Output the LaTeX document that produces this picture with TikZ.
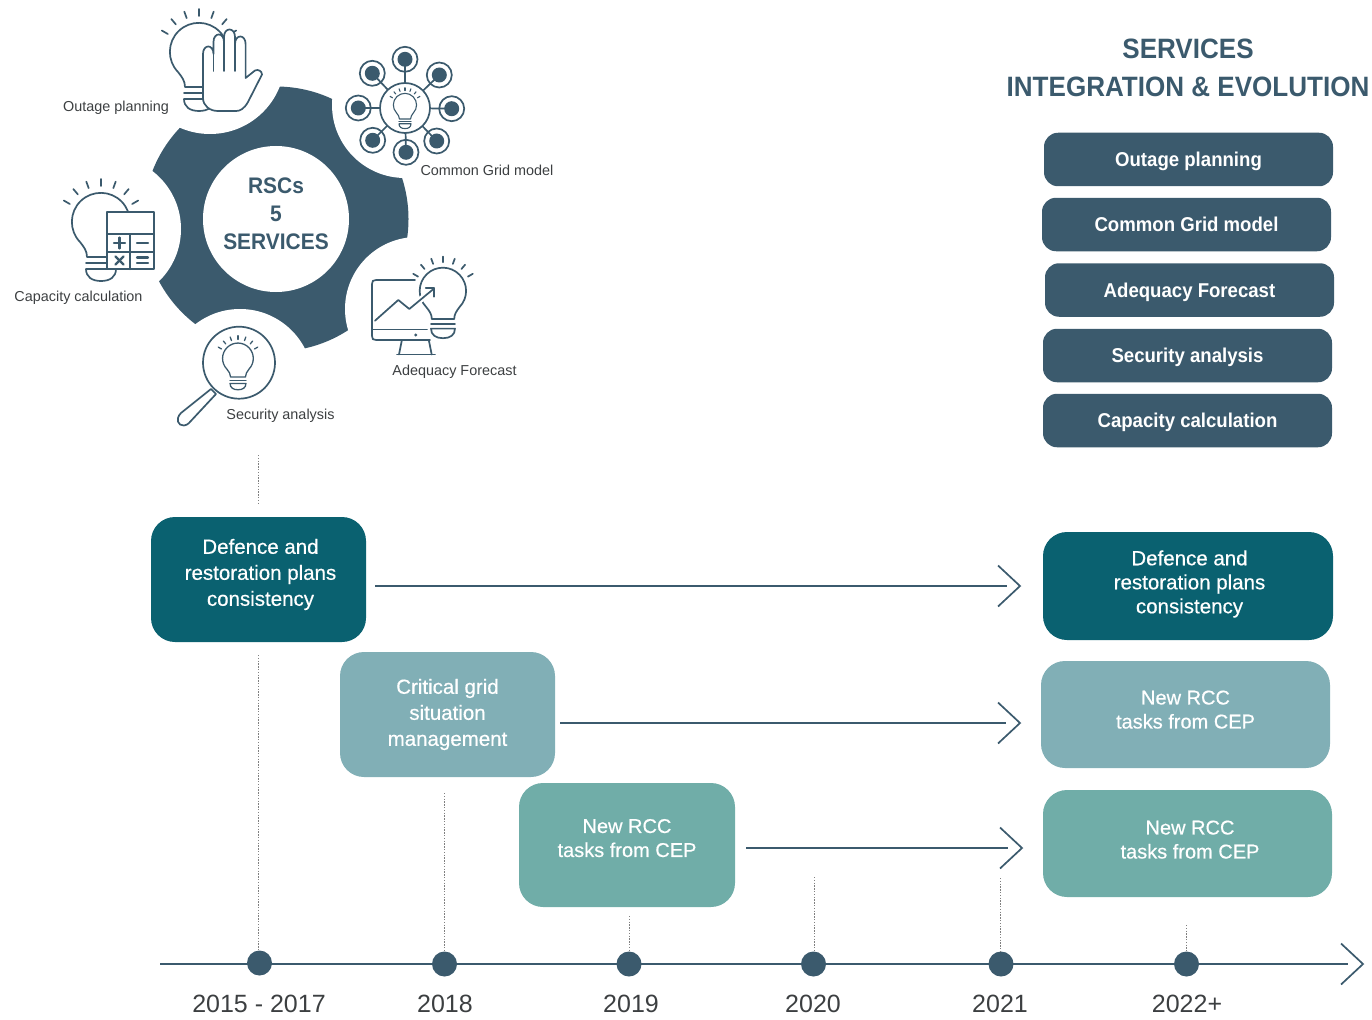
\documentclass[tikz,border=0pt]{standalone}
\usepackage{fontspec}
\setmainfont{Liberation Sans}
\newfontfamily\medfont[FakeBold=0.5]{Liberation Sans}
\newfontfamily\narrowbold[UprightFont={* Bold},FakeStretch=0.93]{Liberation Sans}
\usetikzlibrary{positioning}
\definecolor{slateblue}{HTML}{3B5A6D}
\definecolor{deepteal}{HTML}{0A6170}
\definecolor{paleteal}{HTML}{81AFB6}
\definecolor{softteal}{HTML}{70ADA8}
\definecolor{labelgrey}{HTML}{3C3F41}
\tikzset{
  iconline/.style={draw=slateblue, line width=1.7pt, line cap=round, line join=round},
  flowline/.style={draw=slateblue, line width=1.7pt},
  dotline/.style={draw=gray, line width=1pt, dash pattern=on 1.4pt off 1.4pt},
  svcbox/.style={fill=slateblue, text=white, rounded corners=14pt, minimum width=289pt, minimum height=53.5pt,
    inner sep=0pt, text height=17.5pt, text depth=3.5pt, font=\fontsize{20}{24}\selectfont\narrowbold},
  flowbox/.style={text=white, rounded corners=24pt, inner sep=0pt, align=center, font=\fontsize{20.5}{26}\selectfont\medfont},
  tightbox/.style={flowbox, font=\fontsize{20}{24}\selectfont\medfont},
  yeardot/.style={circle, fill=slateblue, minimum size=25pt, inner sep=0pt},
  yearlabel/.style={text=labelgrey, inner sep=0pt, font=\fontsize{25}{30}\selectfont},
  iconlabel/.style={text=labelgrey, inner sep=0pt, text height=13.5pt, text depth=2.5pt, font=\fontsize{14.4}{17}\selectfont},
  bulbicon/.pic={
    \foreach \a in {210,230,...,330} {
      \draw[iconline] (\a:36) -- (\a:43);
    }
    \draw[iconline,fill=white] (-14,35) .. controls (-14,29) and (-17,25) .. (-21,20)
      arc[start angle=136,end angle=404,radius=29]
      .. controls (17,25) and (14,29) .. (14,35) -- cycle;
    \draw[iconline] (-15,41) -- (15,41);
    \draw[iconline,fill=white] (-15,47) -- (15,47) .. controls (15,55) and (9,59) .. (0,59)
      .. controls (-9,59) and (-15,55) .. (-15,47) -- cycle;
  }
}
\newcommand{\openbarb}[1]{\draw[flowline] (#1) ++(-22,-20.5) -- (#1) -- ++(-22,20.5);}
\newcommand{\tailline}[1]{\\[#1]\mbox{}}
\begin{document}
\begin{tikzpicture}[x=1pt,y=-1pt]
\useasboundingbox (0,0) rectangle (1372,1019);
\def\ygear{219};
\def\xgear{276};
\def\ytime{964};

\fill[slateblue] (\xgear,\ygear) circle (132.5);
\fill[white] (210,59) circle (75);
\fill[white] (405,105) circle (73);
\fill[white] (417,309) circle (72);
\fill[white] (240,382) circle (73);
\fill[white] (108,229) circle (73);
\fill[white] (\xgear,\ygear) circle (73);
\node(gear) at (\xgear,214) [inner sep=0pt, text=slateblue, align=center,
  font=\fontsize{22.5}{28}\selectfont\narrowbold] {RSCs\\5\\SERVICES};

\pic at (199,52) {bulbicon};
\draw[iconline,fill=white] (203,98) -- (203,54) .. controls (203,44) and (213.5,44) .. (213.5,54)
  -- (213.5,42) .. controls (213.5,32) and (224,32) .. (224,42)
  -- (224,37) .. controls (224,27) and (235,27) .. (235,37)
  -- (235,44) .. controls (235,34) and (245.6,34) .. (245.6,44)
  -- (245.6,78) -- (255,70.5) .. controls (258,69) and (262,71) .. (262,74.5)
  -- (248,102) .. controls (244,109) and (240,111) .. (236,111) -- (218,111)
  .. controls (210,111) and (203,106) .. (203,98) -- cycle;
\draw[iconline] (213.5,54) -- (213.5,71);
\draw[iconline] (224,42) -- (224,71);
\draw[iconline] (235,44) -- (235,71);
\node(outage) at (116,106) [iconlabel] {Outage planning};

\foreach \px/\py in {405/59.3, 439.3/75, 451.7/108.7, 436.7/141, 406/152.3, 372.7/140.3, 358.3/108, 372.3/73.3} {
  \draw[iconline] (\px,\py) circle (12.5);
  \draw[iconline] (405,108) -- (\px,\py);
  \fill[slateblue] (\px,\py) circle (7.5);
}
\draw[iconline,fill=white] (405,108) circle (25);
\pic[scale=0.4, iconline/.append style={line width=1.1pt}] at (405,105) {bulbicon};
\node(grid) at (487,170) [iconlabel] {Common Grid model};

\draw[iconline] (415,280) -- (376,280) .. controls (373,280) and (372,281) .. (372,284) -- (372,336)
  .. controls (372,339) and (373,340) .. (376,340) -- (430,340);
\draw[iconline] (372,329.5) -- (427,329.5);
\fill[slateblue] (415.7,335) circle (1.6);
\draw[iconline] (401.7,341) -- (399,354.5);
\draw[iconline] (429,341) -- (431.7,354.5);
\draw[iconline] (397,354.5) -- (435,354.5);
\pic[scale=0.8] at (443,291) {bulbicon};
\draw[white, line width=6pt] (409.3,309) -- (434.3,288.3);
\draw[iconline] (375,320.7) -- (398.3,300) -- (409.3,309) -- (434.3,288.3);
\draw[iconline] (425.7,288.3) -- (434.3,288.3) -- (434.3,296.7);
\node(adequacy) at (454.5,370) [iconlabel] {Adequacy Forecast};

\draw[iconline,fill=white] (211,389) -- (181,413) .. controls (175,419) and (178,426) .. (184,425.5)
  .. controls (186,425.5) and (188,424) .. (189,423) -- (216,394) -- cycle;
\draw[iconline,fill=white] (239,362.7) circle (36);
\pic[scale=0.53, iconline/.append style={line width=1.3pt}] at (238,358.5) {bulbicon};
\node(security) at (280.5,414) [iconlabel] {Security analysis};

\pic at (101,222) {bulbicon};
\draw[iconline,fill=white] (107.3,211.7) rectangle (154,269.3);
\draw[iconline] (107.3,234.3) -- (154,234.3);
\draw[iconline] (107.3,251.7) -- (154,251.7);
\draw[iconline] (130,234.3) -- (130,269.3);
\draw[iconline, line width=2.2pt] (114,243) -- (125,243);
\draw[iconline, line width=2.2pt] (119.5,237.5) -- (119.5,248.5);
\draw[iconline, line width=2.2pt] (137,243) -- (148,243);
\draw[iconline, line width=2.2pt] (115.5,256.5) -- (123.5,264.5);
\draw[iconline, line width=2.2pt] (123.5,256.5) -- (115.5,264.5);
\draw[iconline, line width=2.2pt] (137,257.5) -- (148,257.5);
\draw[iconline, line width=2.2pt] (137,263) -- (148,263);
\node(capacity) at (78.5,296) [iconlabel] {Capacity calculation};

\node(title) at (1188,68) [text=slateblue, inner sep=0pt, align=center, font=\fontsize{28}{38}\selectfont\narrowbold] {SERVICES\\INTEGRATION \& EVOLUTION};
\node(svca) at (1188.5,159.5) [svcbox] {Outage planning};
\node(svcb) at (1186.5,224.5) [svcbox] {Common Grid model};
\node(svcc) at (1189.5,290) [svcbox] {Adequacy Forecast};
\node(svcd) at (1187.5,355.5) [svcbox] {Security analysis};
\node(svce) at (1187.5,420.5) [svcbox] {Capacity calculation};

\def\nudgea{\hspace*{4pt}};
\def\nudgeb{\hspace*{3pt}};
\def\nudgec{\hspace*{5pt}};
\node(defold) at (258.5,579.5) [flowbox, fill=deepteal, minimum width=215pt, minimum height=125pt] {\nudgea Defence and\\\nudgea restoration plans\\\nudgea consistency\tailline{-11.7pt}};
\node(gridold) at (447.5,714.5) [flowbox, fill=paleteal, minimum width=215pt, minimum height=125pt] {Critical grid\\situation\\management};
\node(rccold) at (627,845) [tightbox, fill=softteal, minimum width=216pt, minimum height=124pt] {New RCC\\tasks from CEP\tailline{-10pt}};
\node(defnew) at (1188,586) [tightbox, fill=deepteal, minimum width=290pt, minimum height=108pt, font=\fontsize{20.5}{24}\selectfont\medfont] {\nudgeb Defence and\\\nudgeb restoration plans\\\nudgeb consistency\tailline{-15.7pt}};
\node(rcca) at (1185.5,714.5) [tightbox, fill=paleteal, minimum width=289pt, minimum height=107pt] {New RCC\\tasks from CEP\tailline{-14pt}};
\node(rccb) at (1187.5,843.5) [tightbox, fill=softteal, minimum width=289pt, minimum height=107pt] {\nudgec New RCC\\\nudgec tasks from CEP\tailline{-16pt}};

\coordinate(tipa) at (1020,586);
\coordinate(tipb) at (1020,723);
\coordinate(tipc) at (1022,848);
\coordinate(tipd) at (1363,\ytime);
\coordinate(axisstart) at (160,\ytime);
\draw[flowline, shorten <=9pt, shorten >=13pt] (defold.east |- tipa) -- (tipa);
\draw[flowline, shorten <=5pt, shorten >=14pt] (gridold.east |- tipb) -- (tipb);
\draw[flowline, shorten <=11pt, shorten >=14pt] (rccold.east |- tipc) -- (tipc);
\openbarb{tipa}
\openbarb{tipb}
\openbarb{tipc}
\draw[flowline, shorten >=15pt] (axisstart) -- (tipd);
\openbarb{tipd}

\node(yra) at (259.5,963) [yeardot] {};
\node(yrb) at (444.5,\ytime) [yeardot] {};
\node(yrc) at (629,\ytime) [yeardot] {};
\node(yrd) at (813.5,\ytime) [yeardot] {};
\node(yre) at (1001,\ytime) [yeardot] {};
\node(yrf) at (1186.5,\ytime) [yeardot] {};
\node(laba) at (259,1004) [yearlabel] {2015 - 2017};
\node(labb) at (445,1004) [yearlabel] {2018};
\node(labc) at (631,1004) [yearlabel] {2019};
\node(labd) at (813,1004) [yearlabel] {2020};
\node(labe) at (1000,1004) [yearlabel] {2021};
\node(labf) at (1187,1004) [yearlabel] {2022+};

\coordinate(linea) at (258,455);
\coordinate(lineb) at (258,505);
\coordinate(linec) at (258,655);
\coordinate(lined) at (444,793);
\coordinate(linee) at (629,916);
\coordinate(linef) at (814,877);
\coordinate(lineg) at (1000.5,878);
\coordinate(lineh) at (1186.5,925);
\draw[dotline] (linea) -- (lineb);
\draw[dotline] (linec) -- (linec |- yra.north);
\draw[dotline] (lined) -- (lined |- yrb.north);
\draw[dotline] (linee) -- (linee |- yrc.north);
\draw[dotline] (linef) -- (linef |- yrd.north);
\draw[dotline] (lineg) -- (lineg |- yre.north);
\draw[dotline] (lineh) -- (lineh |- yrf.north);
\end{tikzpicture}
\end{document}
